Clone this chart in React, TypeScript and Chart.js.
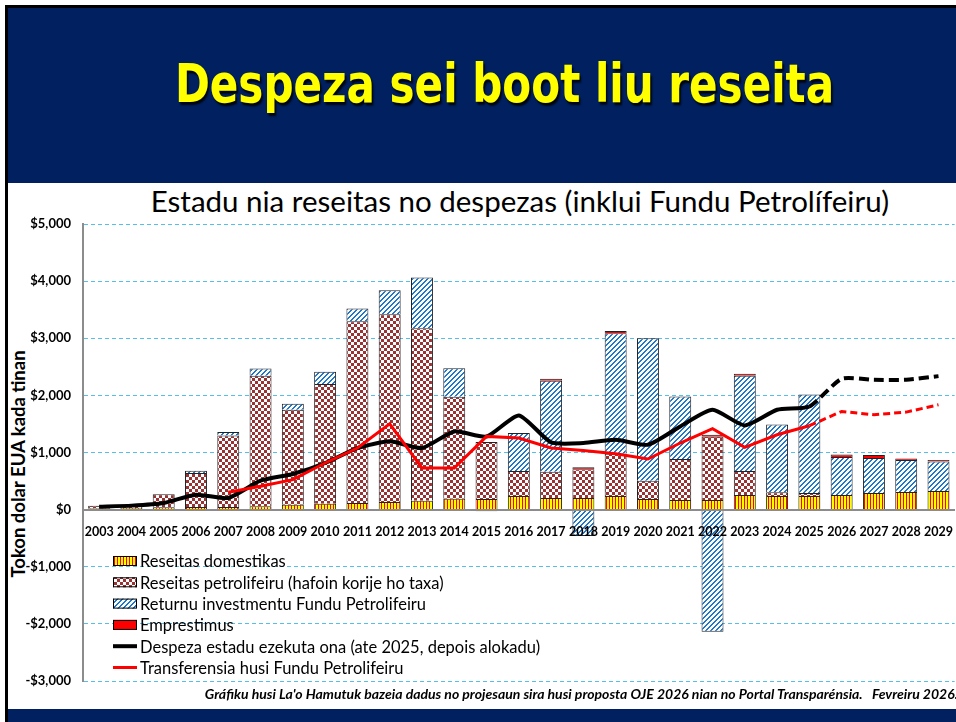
import React, { useEffect, useRef } from 'react';
import { Chart, registerables } from 'chart.js';
Chart.register(...registerables);

const years = ['2003','2004','2005','2006','2007','2008','2009','2010','2011','2012','2013','2014','2015','2016','2017','2018','2019','2020','2021','2022','2023','2024','2025','2026','2027','2028','2029'];
const domestic = [25, 28, 40, 45, 45, 60, 87, 105, 117, 134, 157, 192, 186, 239, 204, 204, 239, 186, 169, 169, 256, 239, 239, 256, 291, 309, 326];
const petroleum = [45, 35, 230, 596, 1254, 2283, 1661, 2092, 3181, 3287, 3019, 1783, 997, 437, 460, 501, 740, 321, 717, 1107, 420, 64, 52, 0, 0, 0, 0];
const fundReturns = [0, 0, 0, 40, 59, 128, 105, 216, 222, 419, 886, 502, -30, 664, 1591, -460, 2110, 2494, 1095, -2140, 1667, 1189, 1726, 665, 613, 558, 517];
const loans = [0, 0, 0, 0, 0, 0, 0, 0, 0, 0, 0, 0, 0, 0, 35, 35, 40, 0, 0, 35, 35, 0, 0, 46, 52, 30, 25];
const spending = [52, 70, 117, 262, 204, 507, 624, 816, 1078, 1195, 1078, 1369, 1280, 1649, 1177, 1166, 1224, 1136, 1457, 1748, 1474, 1748, 1806, 2290, 2273, 2273, 2337];
const transfers = [null, null, null, null, 303, 408, 524, 816, 1078, 1503, 729, 729, 1282, 1253, 1078, 1037, 979, 886, 1166, 1416, 1090, 1311, 1469, 1719, 1661, 1707, 1836];
const lastActualIndex = 22; // 2025

const seriesLabels = [
  'Reseitas domestikas',
  'Reseitas petrolifeiru (hafoin korije ho taxa)',
  'Returnu investmentu Fundu Petrolifeiru',
  'Emprestimus',
  'Despeza estadu ezekuta ona (ate 2025, depois alokadu)',
  'Transferensia husi Fundu Petrolifeiru',
];

const NAVY = '#002060';
const BAR_FONT = 'Lato, "Open Sans", sans-serif';

function pixelPattern(size: number, paint: (x: number, y: number) => string) {
  const c = document.createElement('canvas');
  c.width = size; c.height = size;
  const g = c.getContext('2d')!;
  for (let x = 0; x < size; x++) {
    for (let y = 0; y < size; y++) {
      g.fillStyle = paint(x, y);
      g.fillRect(x, y, 1, 1);
    }
  }
  return g.createPattern(c, 'repeat')!;
}

const legendPlugin = {
  id: 'insideLegend',
  afterDraw(chart: any) {
    const ctx = chart.ctx as CanvasRenderingContext2D;
    const x0 = 113, y0 = 561, step = 21.3, w = 24, h = 10;
    ctx.save();
    chart.data.datasets.forEach((ds: any, i: number) => {
      const cy = y0 + i * step;
      if (ds.type === 'line') {
        ctx.strokeStyle = ds.borderColor;
        ctx.lineWidth = ds.borderWidth;
        ctx.beginPath();
        ctx.moveTo(x0, cy);
        ctx.lineTo(x0 + w, cy);
        ctx.stroke();
      } else {
        ctx.fillStyle = ds.backgroundColor;
        ctx.fillRect(x0, cy - h / 2, w, h);
        ctx.strokeStyle = '#000';
        ctx.lineWidth = 1;
        ctx.strokeRect(x0 + 0.5, cy - h / 2 + 0.5, w - 1, h - 1);
      }
      ctx.fillStyle = '#000';
      ctx.font = '16.5px ' + BAR_FONT;
      ctx.textBaseline = 'middle';
      ctx.textAlign = 'left';
      ctx.fillText(ds.label, x0 + w + 3, cy + 1);
    });
    ctx.restore();
  },
};

export default function App() {
  const ref = useRef<HTMLCanvasElement>(null);
  useEffect(() => {
    const canvas = ref.current!;
    const pDomestic = pixelPattern(3, (x) => (x % 3 === 0 ? '#ff0000' : '#ffff00'));
    const pPetro = pixelPattern(6, (x, y) => ((Math.floor(x / 3) + Math.floor(y / 3)) % 2 === 0 ? '#993333' : '#ffffff'));
    const pReturns = pixelPattern(5, (x, y) => ((x + y) % 5 < 2 ? '#1f78c8' : '#ffffff'));
    const barCommon = {
      type: 'bar' as const,
      stack: 'bars',
      borderColor: '#222',
      borderWidth: 1,
      barPercentage: 0.68,
      categoryPercentage: 1,
      order: 3,
    };
    const dashAfter = (dash: number[]) => (c: any) => (c.p0DataIndex >= lastActualIndex ? dash : undefined);
    const chart = new Chart(canvas, {
      type: 'bar',
      data: {
        labels: years,
        datasets: [
          { ...barCommon, label: seriesLabels[0], data: domestic, backgroundColor: pDomestic },
          { ...barCommon, label: seriesLabels[1], data: petroleum, backgroundColor: pPetro },
          { ...barCommon, label: seriesLabels[2], data: fundReturns, backgroundColor: pReturns },
          { ...barCommon, label: seriesLabels[3], data: loans, backgroundColor: '#ff0000' },
          {
            type: 'line', label: seriesLabels[4], data: spending, borderColor: '#000', borderWidth: 4,
            pointRadius: 0, tension: 0.2, stack: 'l1', order: 2,
            segment: { borderDash: dashAfter([10, 5]) },
          },
          {
            type: 'line', label: seriesLabels[5], data: transfers, borderColor: '#ff0000', borderWidth: 3,
            pointRadius: 0, tension: 0, stack: 'l2', order: 1,
            segment: { borderDash: dashAfter([7, 4]) },
          },
        ] as any,
      },
      options: {
        responsive: false,
        animation: false,
        layout: { padding: { top: 224, bottom: 41, left: 0, right: 0 } },
        plugins: { legend: { display: false }, tooltip: { enabled: false }, title: { display: false } },
        scales: {
          x: {
            stacked: true,
            position: { y: 0 } as any,
            grid: { display: false },
            border: { color: '#8c8c8c', width: 2, z: 1 },
            ticks: {
              z: 1,
              color: '#000', maxRotation: 0, autoSkip: false, padding: 7,
              font: { family: BAR_FONT, weight: 'bold', size: 12.5 },
            },
          },
          y: {
            stacked: true,
            min: -3000,
            max: 5000,
            ticks: {
              stepSize: 1000, color: '#000', padding: 12,
              font: { family: BAR_FONT, weight: 'bold', size: 13 },
              callback: (v: any) => (v < 0 ? '-' : '') + '$' + Math.abs(v).toLocaleString('en-US'),
            },
            grid: {
              drawTicks: false,
              lineWidth: 1,
              color: (c: any) => (c.tick && c.tick.value === 0 ? 'rgba(0,0,0,0)' : '#55bfe8'),
            },
            border: { color: '#8c8c8c', width: 2, dash: [4, 3] },
            title: { display: false },
            afterFit: (s: any) => { s.width = 83; },
          },
        },
      } as any,
      plugins: [legendPlugin],
    });
    return () => chart.destroy();
  }, []);

  return (
    <div style={{ position: 'absolute', left: 0, top: 0, width: 956, height: 722, overflow: 'hidden', background: '#fff' }}>
      <div style={{ position: 'absolute', left: 5, top: 5, width: 960, height: 720, background: NAVY, borderLeft: '3px solid #000', borderTop: '3px solid #000', boxSizing: 'border-box' }} />
      <div style={{ position: 'absolute', left: 8, top: 183, width: 960, height: 526, background: '#fff' }} />
      <div style={{
        position: 'absolute', left: 0, top: 57, width: 1009, textAlign: 'center',
        fontFamily: '"DejaVu Sans Condensed", "DejaVu Sans", sans-serif',
        fontWeight: 'bold', fontSize: 54, lineHeight: '54px', color: '#ffff00',
        textShadow: '2px 3px 2px rgba(0,0,0,0.85)', whiteSpace: 'nowrap',
        transform: 'scaleX(0.866)', transformOrigin: '504.5px 50%',
      }}>Despeza sei boot liu reseita</div>
      <div style={{
        position: 'absolute', left: 0, top: 184, width: 1040, textAlign: 'center',
        fontFamily: BAR_FONT, fontSize: 29.5, lineHeight: '34px', color: '#000', whiteSpace: 'nowrap',
      }}>Estadu nia reseitas no despezas (inklui Fundu Petrolífeiru)</div>
      <div style={{
        position: 'absolute', left: 18 - 150, top: 464 - 12, width: 300, height: 24, lineHeight: '24px',
        textAlign: 'center', transform: 'rotate(-90deg)', transformOrigin: '150px 12px',
        fontFamily: BAR_FONT, fontSize: 18.5, fontWeight: 'bold', color: '#000', whiteSpace: 'nowrap',
      }}>Tokon dolar EUA kada tinan</div>
      <canvas ref={ref} width={960} height={722} style={{ position: 'absolute', left: 0, top: 0, width: 960, height: 722 }} />
      <div style={{
        position: 'absolute', right: -2, top: 685, textAlign: 'right',
        fontFamily: BAR_FONT, fontSize: 14, lineHeight: '17px', fontWeight: 'bold', fontStyle: 'italic', color: '#000', whiteSpace: 'nowrap',
      }}>Gráfiku husi La'o Hamutuk bazeia dadus no projesaun sira husi proposta OJE 2026 nian no Portal Transparénsia.&nbsp;&nbsp; Fevreiru 2026.</div>
    </div>
  );
}
